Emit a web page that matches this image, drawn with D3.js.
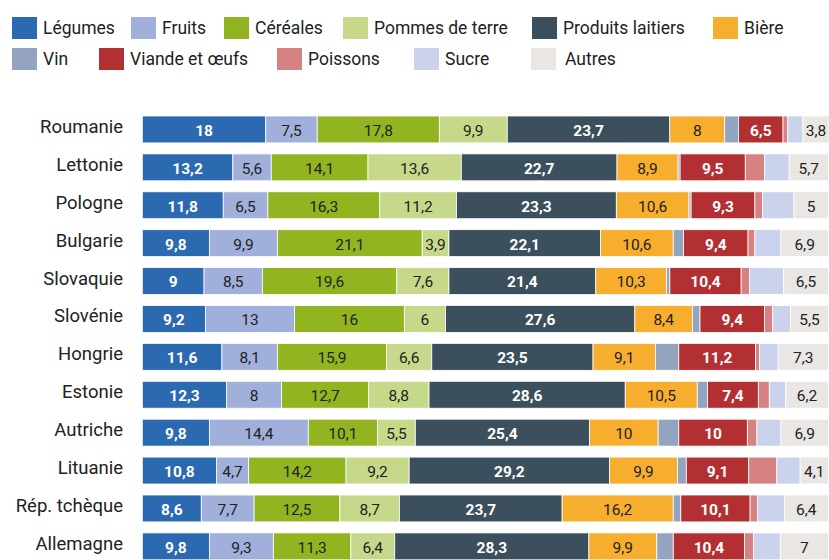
<!DOCTYPE html>
<html>
<head>
<meta charset="utf-8">
<script src="https://cdn.jsdelivr.net/npm/d3@7"></script>
<style>
    body { margin: 0; background: #fff; }
    svg { font-family: Roboto, "Noto Sans", sans-serif; }
</style>
</head>
<body>
<svg id="chart" width="829" height="560"></svg>
<script>

//*************************************************//
// Chart data
//*************************************************//

var countries = ['Roumanie', 'Lettonie', 'Pologne', 'Bulgarie', 'Slovaquie', 'Slovénie',
    'Hongrie', 'Estonie', 'Autriche', 'Lituanie', 'Rép. tchèque', 'Allemagne'];

var categories = ['Légumes', 'Fruits', 'Céréales', 'Pommes de terre', 'Produits laitiers', 'Bière',
    'Vin', 'Viande et œufs', 'Poissons', 'Sucre', 'Autres'];

// One array per category, in the order of countries
var legumes        = [18, 13.2, 11.8, 9.8, 9, 9.2, 11.6, 12.3, 9.8, 10.8, 8.6, 9.8];
var fruits         = [7.5, 5.6, 6.5, 9.9, 8.5, 13, 8.1, 8, 14.4, 4.7, 7.7, 9.3];
var cereales       = [17.8, 14.1, 16.3, 21.1, 19.6, 16, 15.9, 12.7, 10.1, 14.2, 12.5, 11.3];
var pommesDeTerre  = [9.9, 13.6, 11.2, 3.9, 7.6, 6, 6.6, 8.8, 5.5, 9.2, 8.7, 6.4];
var produitsLait   = [23.7, 22.7, 23.3, 22.1, 21.4, 27.6, 23.5, 28.6, 25.4, 29.2, 23.7, 28.3];
var biere          = [8, 8.9, 10.6, 10.6, 10.3, 8.4, 9.1, 10.5, 10, 9.9, 16.2, 9.9];
var vin            = [2.0, 0.3, 0.3, 1.5, 0.5, 1.1, 3.4, 1.5, 3.0, 1.3, 1.1, 2.4];
var viande         = [6.5, 9.5, 9.3, 9.4, 10.4, 9.4, 11.2, 7.4, 10, 9.1, 10.1, 10.4];
var poissons       = [0.7, 2.8, 1.1, 1.0, 1.2, 1.2, 0.6, 1.6, 1.4, 4.1, 1.1, 1.3];
var sucre          = [2.2, 3.6, 4.6, 3.8, 5.0, 2.6, 2.7, 2.4, 3.5, 3.4, 3.9, 3.9];
var autres         = [3.8, 5.7, 5, 6.9, 6.5, 5.5, 7.3, 6.2, 6.9, 4.1, 6.4, 7];

var seriesValues = [legumes, fruits, cereales, pommesDeTerre, produitsLait, biere,
    vin, viande, poissons, sucre, autres];

var colors = ['#2b69b0', '#a0b0db', '#93b421', '#c6d98a', '#3b4f5c', '#f7ae2e',
    '#93a5be', '#b33032', '#d68282', '#cad2ec', '#e9e6e4'];

// Segments with a value label, and which use white bold text
var labelled = ['Légumes', 'Fruits', 'Céréales', 'Pommes de terre', 'Produits laitiers',
    'Bière', 'Viande et œufs', 'Autres'];
var whiteText = ['Légumes', 'Produits laitiers', 'Viande et œufs'];


//*************************************************//
// Build table for d3.stack
//*************************************************//

var table = countries.map(function(c, i) {
    var row = { country: c };
    categories.forEach(function(cat, j) {
        row[cat] = seriesValues[j][i];
    });
    return row;
});

var stacked = d3.stack().keys(categories)(table);

var svg = d3.select('#chart');


/*****************************/
// Scales
/*****************************/

var x = d3.scaleLinear().domain([0, 100]).range([142.3, 828.3]);

var y = d3.scaleBand()
    .domain(countries)
    .range([105, 570.8])
    .padding(0.29);

var color = d3.scaleOrdinal().domain(categories).range(colors);


/*****************************/
// Legend
/*****************************/

var legendRows = [
    { y: 28, items: [
        { name: 'Légumes', x: 12 }, { name: 'Fruits', x: 131 }, { name: 'Céréales', x: 224 },
        { name: 'Pommes de terre', x: 343 }, { name: 'Produits laitiers', x: 532 }, { name: 'Bière', x: 713 }
    ]},
    { y: 59, items: [
        { name: 'Vin', x: 12 }, { name: 'Viande et œufs', x: 99 }, { name: 'Poissons', x: 277 },
        { name: 'Sucre', x: 414 }, { name: 'Autres', x: 531 }
    ]}
];

legendRows.forEach(function(row) {
    var g = svg.append('g');
    var item = g.selectAll('g')
        .data(row.items)
        .enter().append('g')
        .attr('transform', function(d) { return 'translate(' + d.x + ',' + row.y + ')'; });

    item.append('rect')
        .attr('x', 0)
        .attr('y', -11)
        .attr('width', 25)
        .attr('height', 22)
        .attr('fill', function(d) { return color(d.name); });

    item.append('text')
        .attr('x', function(d) { return d.name == 'Autres' ? 34 : 31; })
        .attr('dy', '0.35em')
        .attr('font-size', '17.5px')
        .attr('fill', '#222')
        .text(function(d) { return d.name; });
});


/*****************************/
// Country labels
/*****************************/

svg.append('g')
    .selectAll('text')
    .data(countries)
    .enter().append('text')
    .attr('x', 123)
    .attr('y', function(d) { return y(d) + y.bandwidth() / 2 - 3; })
    .attr('dy', '0.35em')
    .attr('text-anchor', 'end')
    .attr('font-size', '18.5px')
    .attr('fill', '#222')
    .text(function(d) { return d; });


/*****************************/
// Stacked bars
/*****************************/

var layer = svg.append('g')
    .selectAll('g')
    .data(stacked)
    .enter().append('g')
    .attr('fill', function(d) { return color(d.key); });

layer.selectAll('rect')
    .data(function(d) { return d; })
    .enter().append('rect')
    .attr('x', function(d) { return x(d[0]); })
    .attr('y', function(d) { return y(d.data.country); })
    .attr('width', function(d) { return x(d[1]) - x(d[0]); })
    .attr('height', y.bandwidth())
    .attr('stroke', '#fff')
    .attr('stroke-width', 0.8);


/*****************************/
// Value labels
/*****************************/

var labelLayer = svg.append('g')
    .selectAll('g')
    .data(stacked.filter(function(s) { return labelled.indexOf(s.key) >= 0; }))
    .enter().append('g');

labelLayer.selectAll('text')
    .data(function(s) {
        return s.map(function(d) { return { key: s.key, d: d }; });
    })
    .enter().append('text')
    .attr('x', function(o) { return (x(o.d[0]) + x(o.d[1])) / 2; })
    .attr('y', function(o) { return y(o.d.data.country) + y.bandwidth() / 2 + 1; })
    .attr('dy', '0.35em')
    .attr('text-anchor', 'middle')
    .attr('font-size', '15.5px')
    .attr('font-weight', function(o) { return whiteText.indexOf(o.key) >= 0 ? 'bold' : 'normal'; })
    .attr('fill', function(o) { return whiteText.indexOf(o.key) >= 0 ? '#fff' : '#222'; })
    .text(function(o) { return String(o.d.data[o.key]).replace('.', ','); });

</script>
</body>
</html>
